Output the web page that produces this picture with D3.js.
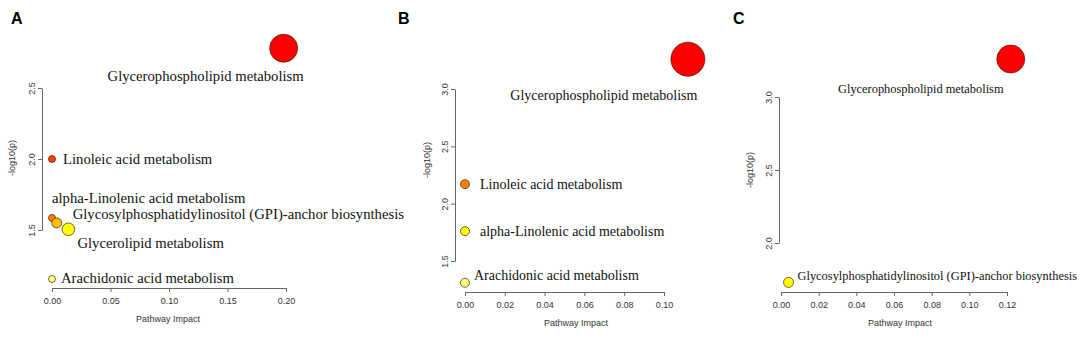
<!DOCTYPE html>
<html>
<head>
<meta charset="utf-8">
<script src="https://cdn.jsdelivr.net/npm/d3@7"></script>
<style>
  body { margin: 0; background: #fff; }
  svg { display: block; }
  .tick text { font-family: "Liberation Sans", Arial, sans-serif; font-size: 9px; fill: #333; }
  .axis path, .axis line { stroke: #666; }
</style>
</head>
<body>
<svg id="chart" width="1084" height="340"></svg>
<script>
// panel A
const pathwaysA = ["Glycerophospholipid metabolism", "Linoleic acid metabolism",
  "alpha-Linolenic acid metabolism", "Glycosylphosphatidylinositol (GPI)-anchor biosynthesis",
  "Glycerolipid metabolism", "Arachidonic acid metabolism"];
const impactA = [0.198, 0, 0, 0.004, 0.014, 0];
const logpA = [2.78, 2.00, 1.585, 1.55, 1.505, 1.155];
const xTicksA = [0, 0.05, 0.10, 0.15, 0.20];
const yTicksA = [1.5, 2.0, 2.5];

// panel B
const pathwaysB = ["Glycerophospholipid metabolism", "Linoleic acid metabolism",
  "alpha-Linolenic acid metabolism", "Arachidonic acid metabolism"];
const impactB = [0.112, 0, 0, 0];
const logpB = [3.26, 2.17, 1.76, 1.31];
const xTicksB = [0, 0.02, 0.04, 0.06, 0.08, 0.10];
const yTicksB = [1.5, 2.0, 2.5, 3.0];

// panel C
const pathwaysC = ["Glycerophospholipid metabolism",
  "Glycosylphosphatidylinositol (GPI)-anchor biosynthesis"];
const impactC = [0.122, 0.004];
const logpC = [3.26, 1.73];
const xTicksC = [0, 0.02, 0.04, 0.06, 0.08, 0.10, 0.12];
const yTicksC = [2.0, 2.5, 3.0];

// label placement (dx, dy, anchor) relative to each circle
const labelPosA = [[-78, 28, "middle"], [11, 0, "start"], [0, -20, "start"],
  [16, -9, "start"], [9, 14, "start"], [9, -1, "start"]];
const labelPosB = [[-84, 36, "middle"], [15, 0, "start"], [15, 0, "start"], [9, -8, "start"]];
const labelPosC = [[-90, 30, "middle"], [9, -7, "start"]];

const panels = [
  {letter: "A", letterX: 11, names: pathwaysA, impact: impactA, logp: logpA,
   xTicks: xTicksA, yTicks: yTicksA, xFmt: ".2f", labels: labelPosA,
   xRange: [52, 286], yRange: [230, 88], axisX: 42, axisY: 288,
   rMin: 3.5, rMax: 14, font: 14.7, xTitleX: 168, yTitleX: 12, yTitleY: 158},
  {letter: "B", letterX: 398, names: pathwaysB, impact: impactB, logp: logpB,
   xTicks: xTicksB, yTicks: yTicksB, xFmt: ".2f", labels: labelPosB,
   xRange: [465, 664], yRange: [261, 89], axisX: 455, axisY: 292,
   rMin: 4.5, rMax: 17, font: 14, xTitleX: 576, yTitleX: 427, yTitleY: 160},
  {letter: "C", letterX: 733, names: pathwaysC, impact: impactC, logp: logpC,
   xTicks: xTicksC, yTicks: yTicksC, xFmt: ".2f", labels: labelPosC,
   xRange: [781, 1007], yRange: [243, 97], axisX: 779, axisY: 292,
   rMin: 3, rMax: 14, font: 12.4, xTitleX: 900, yTitleX: 750, yTitleY: 170}
];

// R-style heat.colors(n)
function heatColors(n) {
  const j = Math.floor(n / 4), i = n - j;
  const out = [];
  for (let k = 0; k < i; k++) {
    const h = i > 1 ? k / (i - 1) * 60 : 0;
    out.push(d3.hsl(h, 1, 0.5).formatHex());
  }
  for (let k = 0; k < j; k++) {
    const s0 = 1 - 1 / (2 * j), s1 = 1 / (2 * j);
    const s = j > 1 ? s0 + k * (s1 - s0) / (j - 1) : s0;
    out.push(d3.rgb(255, 255, Math.round(255 * (1 - s))).formatHex());
  }
  return out;
}

const svg = d3.select('#chart');

panels.forEach(p => {
  const g = svg.append('g');

  const x = d3.scaleLinear().domain([p.xTicks[0], p.xTicks[p.xTicks.length - 1]]).range(p.xRange);
  const y = d3.scaleLinear().domain([p.yTicks[0], p.yTicks[p.yTicks.length - 1]]).range(p.yRange);
  const r = d3.scaleSqrt().domain([0, d3.max(p.impact)]).range([p.rMin, p.rMax]);

  const order = d3.range(p.logp.length).sort((a, b) => p.logp[b] - p.logp[a]);
  const pal = heatColors(p.logp.length);
  const col = [];
  order.forEach((idx, k) => col[idx] = pal[k]);

  // axes
  g.append('g')
    .attr('class', 'axis')
    .attr('transform', `translate(0, ${p.axisY})`)
    .call(d3.axisBottom(x).tickValues(p.xTicks).tickFormat(d3.format(p.xFmt))
      .tickSize(4).tickSizeOuter(0).tickPadding(6));

  const yAxis = g.append('g')
    .attr('class', 'axis')
    .attr('transform', `translate(${p.axisX}, 0)`)
    .call(d3.axisLeft(y).tickValues(p.yTicks).tickFormat(d3.format(".1f"))
      .tickSize(4).tickSizeOuter(0));
  yAxis.selectAll('.tick text')
    .attr('transform', 'rotate(-90)')
    .attr('x', 0).attr('y', -7).attr('dy', 0)
    .attr('text-anchor', 'middle');

  // axis titles
  g.append('text')
    .attr('x', p.xTitleX).attr('y', p.axisY + 34)
    .attr('text-anchor', 'middle')
    .style('font-family', '"Liberation Sans", Arial, sans-serif')
    .style('font-size', '9px').style('fill', '#333')
    .text('Pathway Impact');

  g.append('text')
    .attr('transform', `translate(${p.yTitleX}, ${p.yTitleY}) rotate(-90)`)
    .attr('dy', '0.35em')
    .attr('text-anchor', 'middle')
    .style('font-family', '"Liberation Sans", Arial, sans-serif')
    .style('font-size', '9px').style('fill', '#333')
    .text('-log10(p)');

  // circles
  const idx = d3.range(p.names.length);
  g.append('g').selectAll('circle')
    .data(idx)
    .join('circle')
      .attr('cx', i => x(p.impact[i]))
      .attr('cy', i => y(p.logp[i]))
      .attr('r', i => r(p.impact[i]))
      .attr('fill', i => col[i])
      .attr('stroke', '#3a1a00')
      .attr('stroke-opacity', 0.75)
      .attr('stroke-width', 0.9);

  // labels
  g.append('g').selectAll('text')
    .data(idx)
    .join('text')
      .attr('x', i => x(p.impact[i]) + p.labels[i][0])
      .attr('y', i => y(p.logp[i]) + p.labels[i][1])
      .attr('dy', '0.35em')
      .attr('text-anchor', i => p.labels[i][2])
      .style('font-family', '"Liberation Serif", "Times New Roman", serif')
      .style('font-size', p.font + 'px')
      .style('fill', '#111')
      .text(i => p.names[i]);

  // panel letter
  g.append('text')
    .attr('x', p.letterX).attr('y', 24)
    .style('font-family', '"Liberation Sans", Arial, sans-serif')
    .style('font-size', '16px').style('font-weight', 'bold')
    .text(p.letter);
});
</script>
</body>
</html>
